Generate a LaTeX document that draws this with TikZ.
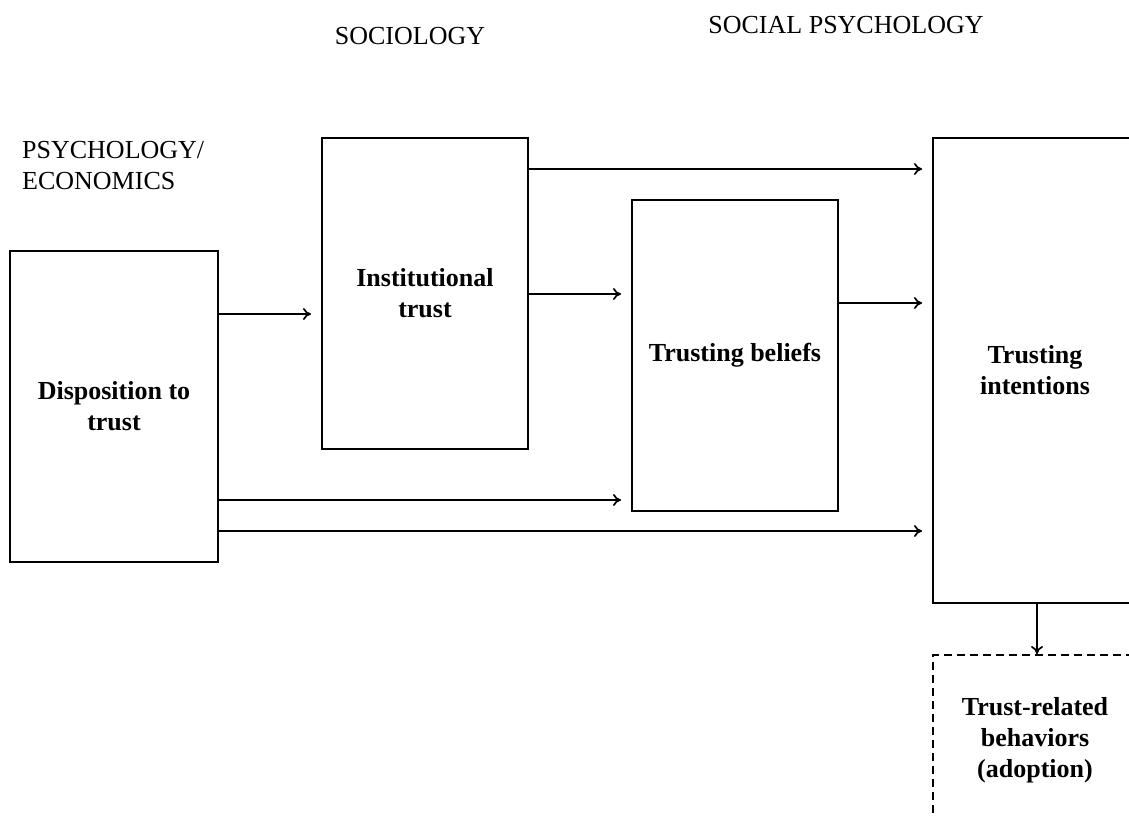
\documentclass[tikz,border=0pt]{standalone}
\usepackage{fontspec}
\setmainfont{Liberation Serif}
\usetikzlibrary{arrows.meta}
\begin{document}
\begin{tikzpicture}[x=1pt,y=-1pt,
  box/.style={draw,line width=2pt,align=center,inner sep=0pt,
    font=\bfseries\fontsize{26}{31}\selectfont},
  head/.style={font=\fontsize{26}{31}\selectfont,inner sep=0pt},
  link/.style={line width=1.7pt,-{To[length=8pt,width=12pt]},shorten >=10pt}]
\clip (0,0) rectangle (1129,816);
\fill[white] (0,0) rectangle (1129,816);

% column headings
\node[head] (soc) at (410,36) {SOCIOLOGY};
\node[head] (socpsy) at (846,25) {SOCIAL PSYCHOLOGY};
\node[head,anchor=west,align=left] (psyeco) at (22,166)
  {PSYCHOLOGY/\\ECONOMICS};

% constructs
\node[box,minimum width=208pt,minimum height=311pt] (disp) at (114,406.5)
  {Disposition to\\trust};
\node[box,minimum width=206pt,minimum height=311pt] (inst) at (425,293.5)
  {Institutional\\trust};
\node[box,minimum width=206pt,minimum height=311pt] (beli) at (735,355.5)
  {Trusting beliefs};
\node[box,minimum width=204pt,minimum height=465pt] (inte) at (1035,370.5)
  {Trusting\\intentions};
\node[box,dashed,dash pattern=on 8pt off 5pt,minimum width=204pt,
  minimum height=170pt] (behv) at (1035,740)
  {Trust-related\\behaviors\\(adoption)};

% relationships
\draw[link] (disp.east |- 0,314) -- (inst.west |- 0,314);
\draw[link] (inst.east |- 0,169) -- (inte.west |- 0,169);
\draw[link] (inst.east |- 0,294) -- (beli.west |- 0,294);
\draw[link] (beli.east |- 0,303) -- (inte.west |- 0,303);
\draw[link] (disp.east |- 0,500) -- (beli.west |- 0,500);
\draw[link] (disp.east |- 0,531) -- (inte.west |- 0,531);
\draw[link,shorten >=0pt] (inte.south -| 1037,0) -- (behv.north -| 1037,0);
\end{tikzpicture}
\end{document}
